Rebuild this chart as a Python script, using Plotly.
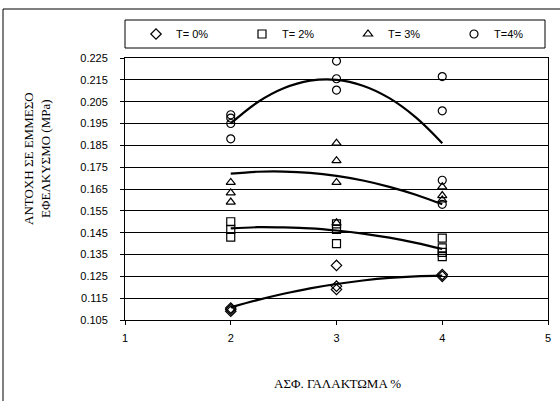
import plotly.graph_objects as go

# ---------------- data ----------------
series_names = ["T= 0%", "T= 2%", "T= 3%", "T=4%"]
symbols = ["diamond-open", "square-open", "triangle-up-open", "circle-open"]

t0_x = [2, 2, 2, 3, 3, 3, 4, 4]
t0_y = [0.1105, 0.1098, 0.1090, 0.1300, 0.1205, 0.1190, 0.1258, 0.1250]

t2_x = [2, 2, 2, 3, 3, 3, 4, 4, 4, 4]
t2_y = [0.1500, 0.1465, 0.1430, 0.1490, 0.1465, 0.1400, 0.1425, 0.1380, 0.1360, 0.1340]

t3_x = [2, 2, 2, 3, 3, 3, 3, 4, 4, 4]
t3_y = [0.1680, 0.1632, 0.1590, 0.1860, 0.1780, 0.1680, 0.1495, 0.1660, 0.1620, 0.1600]

t4_x = [2, 2, 2, 2, 3, 3, 3, 4, 4, 4, 4]
t4_y = [0.1990, 0.1975, 0.1950, 0.1880, 0.2236, 0.2155, 0.2103, 0.2165, 0.2008, 0.1690, 0.1580]

# trend curves
curve_x = [2.0, 2.25, 2.5, 2.75, 3.0, 3.25, 3.5, 3.75, 4.0]
curve_t0 = [0.1108, 0.1141, 0.1170, 0.1195, 0.1215, 0.1231, 0.1243, 0.1250, 0.1253]
curve_t2 = [0.1470, 0.1475, 0.1474, 0.1470, 0.1460, 0.1446, 0.1427, 0.1403, 0.1375]
curve_t3 = [0.1720, 0.1729, 0.1730, 0.1724, 0.1710, 0.1689, 0.1660, 0.1624, 0.1580]
curve_t4 = [0.1950, 0.2046, 0.2111, 0.2146, 0.2150, 0.2123, 0.2066, 0.1978, 0.1860]

x_ticks = [1, 2, 3, 4, 5]
y_ticks = [0.105, 0.115, 0.125, 0.135, 0.145, 0.155, 0.165, 0.175, 0.185, 0.195, 0.205, 0.215, 0.225]

x_title = "ΑΣΦ. ΓΑΛΑΚΤΩΜΑ %"
y_title = "ΑΝΤΟΧΗ ΣΕ ΕΜΜΕΣΟ<br>ΕΦΕΛΚΥΣΜΟ (MPa)"

# ---------------- layout constants ----------------
W, H = 560, 401
L, R, T, B = 125, 548, 58, 320
PW, PH = R - L, B - T

def px(xp):
    return (xp - L) / PW

def py(yp):
    return (B - yp) / PH

fig = go.Figure()

for xs, ys in [(curve_x, curve_t0), (curve_x, curve_t2), (curve_x, curve_t3), (curve_x, curve_t4)]:
    fig.add_trace(go.Scatter(x=xs, y=ys, mode="lines", showlegend=False,
                             line=dict(color="black", width=2.2, shape="spline"),
                             hoverinfo="skip"))

for name, sym, xs, ys in zip(series_names, symbols,
                             [t0_x, t2_x, t3_x, t4_x], [t0_y, t2_y, t3_y, t4_y]):
    fig.add_trace(go.Scatter(x=xs, y=ys, mode="markers", name=name,
                             marker=dict(symbol=sym, size=8, color="black",
                                         line=dict(color="black", width=1.2))))

axis_font = dict(family="Liberation Sans, Arial, sans-serif", size=11, color="black")

fig.update_xaxes(range=[1, 5], tickvals=x_ticks, ticktext=[str(v) for v in x_ticks],
                 showgrid=False, zeroline=False, showline=True, linecolor="black",
                 linewidth=1, mirror=True, ticks="outside", ticklen=4, tickcolor="black",
                 tickfont=axis_font, ticklabelstandoff=4, automargin=False)
fig.update_yaxes(range=[0.105, 0.225], tickvals=y_ticks,
                 ticktext=[f"{v:.3f}" for v in y_ticks],
                 showgrid=True, gridcolor="black", gridwidth=1, zeroline=False,
                 showline=True, linecolor="black", linewidth=1, mirror=True,
                 ticks="outside", ticklen=4, tickcolor="black",
                 tickfont=axis_font, ticklabelstandoff=10, automargin=False)

serif = dict(family="Liberation Serif, Times New Roman, serif", size=13, color="black")

fig.add_annotation(text=x_title, xref="paper", yref="paper", x=px(337), y=py(383),
                   showarrow=False, font=serif, xanchor="center", yanchor="middle")
fig.add_annotation(text=y_title, xref="paper", yref="paper", x=px(37), y=py(159),
                   showarrow=False, font=serif, textangle=-90,
                   xanchor="center", yanchor="middle")

shapes = [
    # legend box
    dict(type="rect", xref="paper", yref="paper", x0=px(125), x1=px(545),
         y0=py(48), y1=py(20), line=dict(color="black", width=1)),
    # outer chart frame (left and top edges)
    dict(type="line", xref="paper", yref="paper", x0=px(3), x1=px(3),
         y0=py(401), y1=py(9), line=dict(color="black", width=1)),
    dict(type="line", xref="paper", yref="paper", x0=px(3), x1=px(560),
         y0=py(9), y1=py(9), line=dict(color="black", width=1)),
]

fig.update_layout(
    width=W, height=H,
    margin=dict(l=L, r=W - R, t=T, b=H - B, pad=0, autoexpand=False),
    paper_bgcolor="white", plot_bgcolor="white",
    shapes=shapes,
    showlegend=True,
    legend=dict(orientation="h", x=px(136), y=py(34), xanchor="left", yanchor="middle",
                entrywidth=61, entrywidthmode="pixels", itemwidth=30,
                font=axis_font, bgcolor="rgba(0,0,0,0)", borderwidth=0,
                tracegroupgap=0),
    font=axis_font,
)

fig.write_html(
    "out.html",
    config={"displayModeBar": False},
    post_script="document.body.style.margin='0';document.body.style.padding='0';"
                "document.body.style.overflow='hidden';",
)
